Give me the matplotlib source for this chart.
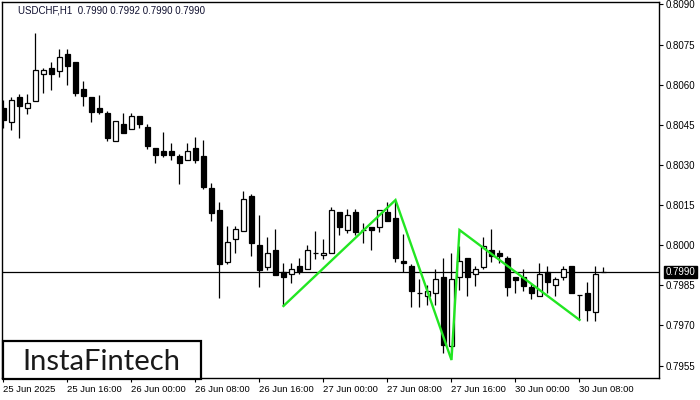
import matplotlib
matplotlib.use("Agg")
import matplotlib.pyplot as plt
from matplotlib.patches import Rectangle
import numpy as np

plt.rcParams['font.family'] = ['Liberation Sans', 'DejaVu Sans']

symbol_title = "USDCHF,H1  0.7990 0.7992 0.7990 0.7990"

opens = [0.80512, 0.80462, 0.80554, 0.80512, 0.80540, 0.80641, 0.80663, 0.80653, 0.80714, 0.80684,
         0.80584, 0.80554, 0.80513, 0.80494, 0.80391, 0.80453, 0.80433, 0.80483, 0.80442, 0.80364,
         0.80352, 0.80352, 0.80334, 0.80320, 0.80364, 0.80334, 0.80214, 0.80132, 0.79939, 0.80022,
         0.80052, 0.80184, 0.80001, 0.79920, 0.79982, 0.79900, 0.79891, 0.79921, 0.79910, 0.79971,
         0.79962, 0.79970, 0.80124, 0.80057, 0.80123, 0.80057, 0.80069, 0.80069, 0.80123, 0.80101,
         0.79942, 0.79922, 0.79820, 0.79811, 0.79820, 0.79880, 0.79623, 0.79880, 0.79951, 0.79891,
         0.79920, 0.79981, 0.79971, 0.79951, 0.79881, 0.79880, 0.79845, 0.79811, 0.79901, 0.79850,
         0.79880, 0.79922, 0.79814, 0.79820, 0.79749, 0.79900]
highs = [0.80543, 0.80555, 0.80564, 0.80564, 0.80793, 0.80664, 0.80685, 0.80734, 0.80734, 0.80684,
         0.80614, 0.80554, 0.80563, 0.80502, 0.80463, 0.80494, 0.80494, 0.80483, 0.80453, 0.80364,
         0.80423, 0.80382, 0.80340, 0.80382, 0.80405, 0.80393, 0.80232, 0.80162, 0.80072, 0.80072,
         0.80203, 0.80192, 0.80113, 0.80031, 0.80060, 0.79933, 0.79933, 0.79951, 0.80000, 0.80053,
         0.80022, 0.80143, 0.80124, 0.80134, 0.80134, 0.80082, 0.80069, 0.80132, 0.80162, 0.80169,
         0.80042, 0.79930, 0.79874, 0.79851, 0.79911, 0.79951, 0.79971, 0.79997, 0.79951, 0.79922,
         0.80031, 0.80060, 0.79981, 0.79961, 0.79881, 0.79911, 0.79856, 0.79933, 0.79922, 0.79880,
         0.79922, 0.79922, 0.79814, 0.79861, 0.79922, 0.79920]
lows = [0.80439, 0.80431, 0.80400, 0.80491, 0.80540, 0.80570, 0.80579, 0.80629, 0.80599, 0.80559,
        0.80522, 0.80462, 0.80492, 0.80391, 0.80391, 0.80421, 0.80433, 0.80439, 0.80360, 0.80309,
        0.80331, 0.80319, 0.80229, 0.80320, 0.80309, 0.80210, 0.80092, 0.79801, 0.79930, 0.79970,
        0.80052, 0.79961, 0.79843, 0.79909, 0.79890, 0.79773, 0.79860, 0.79891, 0.79910, 0.79950,
        0.79950, 0.79970, 0.80038, 0.80045, 0.80038, 0.80010, 0.79982, 0.80051, 0.80092, 0.79939,
        0.79901, 0.79770, 0.79770, 0.79777, 0.79777, 0.79598, 0.79598, 0.79833, 0.79811, 0.79849,
        0.79910, 0.79939, 0.79933, 0.79811, 0.79820, 0.79830, 0.79800, 0.79811, 0.79820, 0.79811,
        0.79870, 0.79820, 0.79721, 0.79718, 0.79718, 0.79900]
closes = [0.80468, 0.80542, 0.80522, 0.80532, 0.80655, 0.80654, 0.80641, 0.80704, 0.80671, 0.80570,
          0.80559, 0.80499, 0.80499, 0.80402, 0.80463, 0.80421, 0.80483, 0.80452, 0.80372, 0.80339,
          0.80339, 0.80339, 0.80309, 0.80352, 0.80320, 0.80218, 0.80122, 0.79930, 0.80012, 0.80060,
          0.80172, 0.80010, 0.79909, 0.79971, 0.79890, 0.79880, 0.79911, 0.79903, 0.79982, 0.79971,
          0.79971, 0.80131, 0.80069, 0.80113, 0.80051, 0.80057, 0.80057, 0.80131, 0.80092, 0.79951,
          0.79933, 0.79830, 0.79820, 0.79830, 0.79874, 0.79628, 0.79874, 0.79941, 0.79880, 0.79910,
          0.79997, 0.79961, 0.79960, 0.79843, 0.79871, 0.79849, 0.79820, 0.79891, 0.79861, 0.79873,
          0.79910, 0.79820, 0.79814, 0.79758, 0.79891, 0.79900]

current_price = 0.7990

x_tick_bars = [0, 8, 16, 24, 32, 40, 48, 56, 64, 72]
x_tick_labels = ["25 Jun 2025", "25 Jun 16:00", "26 Jun 00:00", "26 Jun 08:00", "26 Jun 16:00",
                 "27 Jun 00:00", "27 Jun 08:00", "27 Jun 16:00", "30 Jun 00:00", "30 Jun 08:00"]
y_ticks = [0.7955, 0.7970, 0.7985, 0.8000, 0.8015, 0.8030, 0.8045, 0.8060, 0.8075, 0.8090]

pattern_bars = [35, 49, 56, 57, 72]
pattern_prices = [0.79773, 0.80169, 0.79571, 0.80057, 0.79721]

W, H = 700, 400
fig = plt.figure(figsize=(7, 4), dpi=100)
ax = fig.add_axes([2 / W, 1 - 378 / H, 657 / W, 376 / H])

n = len(opens)
xs = np.arange(n)
o = np.array(opens); c = np.array(closes); hi = np.array(highs); lo = np.array(lows)

ax.vlines(xs, lo, hi, color='black', linewidth=0.9, zorder=2)
bull = c >= o
bottoms = np.minimum(o, c)
heights = np.abs(c - o)
ax.bar(xs, heights, bottom=bottoms, width=0.55,
       color=np.where(bull, 'white', 'black'), edgecolor='black', linewidth=0.9, zorder=3)

ax.axhline(current_price, color='black', linewidth=0.9, zorder=1)

ax.plot(pattern_bars, pattern_prices, color='#22e622', linewidth=1.7, zorder=4,
        solid_joinstyle='miter')

ax.set_xlim(-0.1875, 81.94)
ax.set_ylim(0.795037, 0.809093)

ax.yaxis.tick_right()
ax.set_yticks(y_ticks)
ax.set_yticklabels([f"{v:.4f}" for v in y_ticks], fontsize=7)
ax.set_xticks(x_tick_bars)
ax.set_xticklabels(x_tick_labels, fontsize=6.8, ha='left')
ax.tick_params(axis='y', direction='out', length=3, width=0.8, pad=2, colors='black')
ax.tick_params(axis='x', direction='out', length=3, width=0.8, pad=2, colors='black')
for s in ax.spines.values():
    s.set_linewidth(1.0)
    s.set_color('black')

# current price label
ax.annotate(f"{current_price:.4f}", xy=(1.0, current_price), xycoords=('axes fraction', 'data'),
            xytext=(5, 0), textcoords='offset points', ha='left', va='center',
            fontsize=7, color='white',
            bbox=dict(boxstyle='square,pad=0.15', facecolor='black', edgecolor='black'),
            annotation_clip=False, zorder=6)

fig.text(18 / W, 1 - 10.5 / H, symbol_title, fontsize=7, color='#101030', ha='left', va='center')

# logo
fig.patches.append(Rectangle((3 / W, 1 - 379 / H), 198 / W, 38 / H, transform=fig.transFigure,
                             facecolor='white', edgecolor='black', linewidth=1.6, zorder=5))
fig.text(101.5 / W, 1 - 369.5 / H, "InstaFintech", fontsize=21, color='#1a1a1a',
         family=['Lato', 'DejaVu Sans'], fontweight='normal', ha='center', va='baseline', zorder=6)

fig.savefig("out.png", dpi=100, facecolor='white')
